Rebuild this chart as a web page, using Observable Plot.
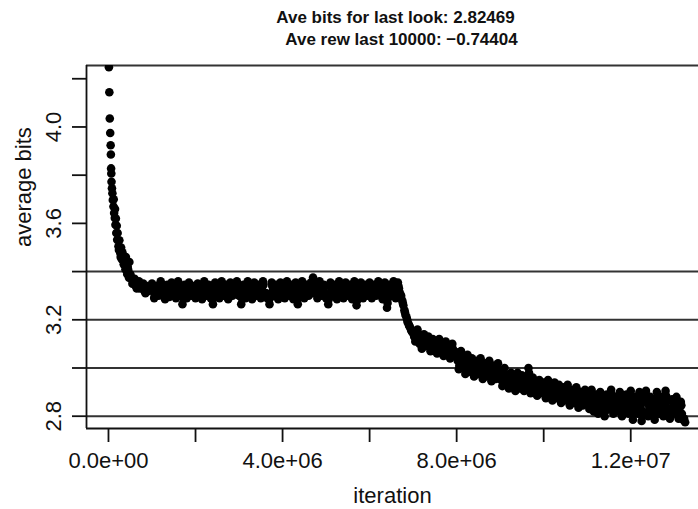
<!DOCTYPE html>
<html>
<head>
<meta charset="utf-8">
<script src="https://cdn.jsdelivr.net/npm/d3@7"></script>
<script src="https://cdn.jsdelivr.net/npm/@observablehq/plot@0.6"></script>
<style>
  html, body { margin: 0; padding: 0; background: #fff; }
  #chart { width: 698px; height: 509px; }
</style>
</head>
<body>
<div id="chart"></div>
<script>
// ---- data ----
const title1 = "Ave bits for last look: 2.82469";
const title2 = "Ave rew last 10000: \u22120.74404";
const xLabel = "iteration";
const yLabel = "average bits";

const xTicks = [0, 2e6, 4e6, 6e6, 8e6, 10e6, 12e6];
const xLabelTicks = [0, 4e6, 8e6, 12e6];
const xTickLabels = ["0.0e+00", "4.0e+06", "8.0e+06", "1.2e+07"];
const yTicks = [2.8, 3.0, 3.2, 3.4, 3.6, 3.8, 4.0, 4.2];
const yLabelTicks = [2.8, 3.2, 3.6, 4.0];
const yTickLabels = ["2.8", "3.2", "3.6", "4.0"];
const hLines = [3.4, 3.2, 3.0, 2.8];

// early iterations (dense, steep fall)
const earlyIter = [10000, 20000, 30000, 40000, 50000, 55000, 60000, 65000, 70000, 80000,
  90000, 100000, 115000, 130000, 145000, 160000, 180000, 200000, 230000, 270000,
  310000, 350000, 390000, 430000, 470000,
  240000, 280000, 320000, 360000, 400000, 440000, 480000,
  120000, 150000, 170000, 190000, 210000, 250000, 290000, 330000, 370000, 410000, 450000];
const earlyBits = [4.248, 4.144, 4.035, 3.975, 3.924, 3.886, 3.828, 3.807, 3.773, 3.746,
  3.725, 3.697, 3.670, 3.643, 3.622, 3.594, 3.560, 3.532, 3.505, 3.477,
  3.450, 3.430, 3.410, 3.390, 3.375,
  3.49, 3.46, 3.48, 3.44, 3.46, 3.42, 3.44,
  3.70, 3.66, 3.62, 3.59, 3.56, 3.53, 3.50, 3.46, 3.45, 3.43, 3.41];

// record A: every 50,000 iterations from 500,000
const aStart = 500000;
const aStep = 50000;
const aBits = [
  3.39, 3.35, 3.37, 3.33, 3.36, 3.34, 3.35, 3.31, 3.34, 3.33,
  3.35, 3.29, 3.34, 3.30, 3.36, 3.32, 3.285, 3.345, 3.295, 3.355,
  3.32, 3.29, 3.36, 3.30, 3.265, 3.345, 3.29, 3.355, 3.30, 3.34,
  3.29, 3.35, 3.31, 3.285, 3.36, 3.30, 3.345, 3.29, 3.265, 3.355,
  3.31, 3.29, 3.36, 3.30, 3.345, 3.285, 3.355, 3.30, 3.33, 3.36,
  3.30, 3.265, 3.345, 3.29, 3.36, 3.31, 3.285, 3.355, 3.30, 3.345,
  3.29, 3.36, 3.31, 3.29, 3.265, 3.355, 3.30, 3.345, 3.285, 3.355,
  3.31, 3.29, 3.36, 3.30, 3.345, 3.285, 3.355, 3.265, 3.31, 3.36,
  3.29, 3.345, 3.30, 3.355, 3.375, 3.31, 3.29, 3.36, 3.30, 3.345,
  3.29, 3.265, 3.355, 3.30, 3.345, 3.285, 3.36, 3.31, 3.29, 3.355,
  3.30, 3.345, 3.285, 3.36, 3.26, 3.31, 3.355, 3.29, 3.345, 3.30,
  3.355, 3.29, 3.345, 3.30, 3.36, 3.31, 3.285, 3.355, 3.25, 3.345,
  3.30, 3.36, 3.29, 3.355, 3.31, 3.28, 3.24, 3.21, 3.18, 3.16,
  3.15, 3.11, 3.16, 3.10, 3.08, 3.14, 3.09, 3.13, 3.07, 3.12,
  3.08, 3.06, 3.12, 3.07, 3.05, 3.11, 3.06, 3.04, 3.10, 3.05,
  3.065, 2.995, 3.07, 3.00, 2.975, 3.055, 2.985, 3.04, 2.965, 3.03,
  2.975, 3.04, 2.955, 3.02, 2.965, 3.03, 2.945, 3.01, 2.955, 3.02,
  2.99, 2.925, 3.00, 2.935, 2.915, 2.98, 2.925, 2.905, 2.98, 2.915,
  2.97, 2.905, 2.96, 3.00, 2.895, 2.96, 2.905, 2.885, 2.95, 2.895,
  2.94, 2.875, 2.95, 2.885, 2.865, 2.94, 2.875, 2.93, 2.855, 2.92,
  2.865, 2.93, 2.845, 2.91, 2.855, 2.92, 2.835, 2.90, 2.845, 2.91,
  2.90, 2.83, 2.91, 2.82, 2.89, 2.81, 2.90, 2.86, 2.80, 2.89,
  2.83, 2.91, 2.81, 2.88, 2.82, 2.90, 2.80, 2.85, 2.89, 2.81,
  2.905, 2.785, 2.88, 2.81, 2.90, 2.78, 2.87, 2.905, 2.80, 2.88,
  2.83, 2.785, 2.90, 2.81, 2.88, 2.80, 2.905, 2.82, 2.79, 2.87,
  2.81, 2.88, 2.79, 2.86, 2.785, 2.775
];

// record B: every 50,000 iterations from 525,000
const bStart = 525000;
const bStep = 50000;
const bBits = [
  3.37, 3.36, 3.34, 3.35, 3.33, 3.34, 3.32, 3.33, 3.32, 3.33,
  3.32, 3.31, 3.32, 3.33, 3.31, 3.30, 3.32, 3.31, 3.33, 3.31,
  3.31, 3.33, 3.32, 3.30, 3.31, 3.32, 3.33, 3.31, 3.32, 3.31,
  3.32, 3.31, 3.30, 3.33, 3.32, 3.31, 3.31, 3.32, 3.30, 3.33,
  3.31, 3.32, 3.33, 3.31, 3.30, 3.32, 3.32, 3.33, 3.31, 3.32,
  3.30, 3.31, 3.32, 3.33, 3.31, 3.30, 3.32, 3.32, 3.31, 3.32,
  3.33, 3.31, 3.31, 3.29, 3.30, 3.32, 3.31, 3.31, 3.32, 3.33,
  3.31, 3.32, 3.33, 3.31, 3.30, 3.32, 3.30, 3.31, 3.33, 3.32,
  3.31, 3.32, 3.33, 3.35, 3.34, 3.31, 3.32, 3.33, 3.32, 3.31,
  3.29, 3.30, 3.32, 3.32, 3.31, 3.32, 3.33, 3.31, 3.32, 3.32,
  3.32, 3.31, 3.32, 3.30, 3.29, 3.33, 3.32, 3.31, 3.32, 3.32,
  3.32, 3.31, 3.32, 3.33, 3.33, 3.30, 3.31, 3.30, 3.29, 3.32,
  3.33, 3.33, 3.32, 3.33, 3.30, 3.26, 3.22, 3.19, 3.17, 3.15,
  3.13, 3.13, 3.13, 3.10, 3.11, 3.11, 3.11, 3.10, 3.09, 3.10,
  3.08, 3.09, 3.09, 3.07, 3.08, 3.08, 3.06, 3.07, 3.07, 3.05,
  3.03, 3.03, 3.03, 3.00, 3.01, 3.02, 3.01, 3.00, 2.99, 3.00,
  3.00, 2.99, 2.98, 2.99, 2.99, 2.98, 2.97, 2.98, 2.98, 2.97,
  2.95, 2.96, 2.96, 2.94, 2.94, 2.95, 2.93, 2.94, 2.94, 2.94,
  2.93, 2.93, 2.96, 2.95, 2.92, 2.93, 2.91, 2.91, 2.92, 2.91,
  2.90, 2.91, 2.91, 2.89, 2.90, 2.90, 2.90, 2.89, 2.88, 2.89,
  2.89, 2.88, 2.87, 2.88, 2.88, 2.87, 2.86, 2.87, 2.87, 2.87,
  2.86, 2.87, 2.86, 2.85, 2.85, 2.86, 2.87, 2.84, 2.85, 2.86,
  2.87, 2.86, 2.84, 2.85, 2.86, 2.85, 2.83, 2.86, 2.85, 2.84,
  2.86, 2.83, 2.84, 2.85, 2.84, 2.82, 2.87, 2.86, 2.84, 2.85,
  2.82, 2.84, 2.86, 2.84, 2.84, 2.86, 2.86, 2.83, 2.83, 2.84,
  2.85, 2.84, 2.82, 2.81, 2.79
];

// record C: every 50,000 iterations from 512,500
const cStart = 512500;
const cStep = 50000;
const cBits = [
  3.38, 3.36, 3.355, 3.34, 3.345, 3.335, 3.34, 3.32, 3.335, 3.325,
  3.34, 3.30, 3.335, 3.305, 3.34, 3.31, 3.30, 3.335, 3.305, 3.34,
  3.315, 3.30, 3.345, 3.305, 3.29, 3.335, 3.30, 3.34, 3.31, 3.335,
  3.30, 3.34, 3.315, 3.295, 3.345, 3.305, 3.335, 3.30, 3.29, 3.34,
  3.31, 3.30, 3.345, 3.305, 3.335, 3.295, 3.34, 3.305, 3.325, 3.345,
  3.305, 3.29, 3.335, 3.30, 3.345, 3.31, 3.295, 3.34, 3.305, 3.335,
  3.30, 3.345, 3.31, 3.30, 3.29, 3.34, 3.305, 3.335, 3.295, 3.34,
  3.31, 3.30, 3.345, 3.305, 3.335, 3.295, 3.34, 3.29, 3.31, 3.345,
  3.30, 3.335, 3.305, 3.345, 3.36, 3.31, 3.30, 3.345, 3.305, 3.335,
  3.30, 3.285, 3.34, 3.305, 3.335, 3.295, 3.345, 3.31, 3.30, 3.34,
  3.305, 3.335, 3.295, 3.345, 3.28, 3.31, 3.34, 3.30, 3.335, 3.305,
  3.34, 3.30, 3.335, 3.305, 3.345, 3.31, 3.295, 3.34, 3.27, 3.335,
  3.305, 3.345, 3.30, 3.34, 3.30, 3.27, 3.23, 3.20, 3.175, 3.155,
  3.14, 3.12, 3.145, 3.105, 3.095, 3.125, 3.10, 3.115, 3.08, 3.11,
  3.085, 3.075, 3.10, 3.075, 3.065, 3.09, 3.065, 3.05, 3.08, 3.055,
  3.045, 3.01, 3.05, 3.01, 2.99, 3.035, 2.995, 3.02, 2.975, 3.015,
  2.985, 3.015, 2.965, 3.005, 2.975, 3.005, 2.955, 2.99, 2.965, 2.995,
  2.97, 2.94, 2.975, 2.94, 2.925, 2.96, 2.93, 2.92, 2.96, 2.925,
  2.95, 2.915, 2.95, 2.98, 2.905, 2.945, 2.91, 2.895, 2.935, 2.90,
  2.92, 2.885, 2.93, 2.89, 2.875, 2.92, 2.885, 2.91, 2.865, 2.905,
  2.875, 2.91, 2.855, 2.895, 2.865, 2.90, 2.85, 2.885, 2.855, 2.89,
  2.88, 2.845, 2.89, 2.835, 2.875, 2.83, 2.885, 2.855, 2.82, 2.875,
  2.84, 2.89, 2.825, 2.87, 2.83, 2.88, 2.82, 2.85, 2.875, 2.825,
  2.88, 2.81, 2.865, 2.825, 2.88, 2.80, 2.86, 2.885, 2.815, 2.865,
  2.835, 2.805, 2.88, 2.825, 2.865, 2.815, 2.885, 2.83, 2.805, 2.86,
  2.825, 2.865, 2.80, 2.845, 2.785
];

// ---- build table ----
const points = [];
earlyIter.forEach((it, i) => points.push({iteration: it, bits: earlyBits[i]}));
aBits.forEach((b, i) => points.push({iteration: aStart + i * aStep, bits: b}));
bBits.forEach((b, i) => points.push({iteration: bStart + i * bStep, bits: b}));
cBits.forEach((b, i) => points.push({iteration: cStart + i * cStep, bits: b}));

const xDomain = [-505000, 13557000];
const yDomain = [2.749, 4.255];
const ink = "#111";
const font = "'Liberation Sans', Arial, Helvetica, sans-serif";

const chart = Plot.plot({
  width: 698,
  height: 509,
  marginLeft: 86,
  marginRight: 0,
  marginTop: 65,
  marginBottom: 81,
  style: {fontFamily: font, fontSize: "22px", background: "#fff", color: ink, overflow: "visible"},
  x: {domain: xDomain, axis: null},
  y: {domain: yDomain, axis: null},
  marks: [
    Plot.ruleY(hLines, {stroke: "#333", strokeWidth: 2}),
    Plot.ruleY([yDomain[1]], {stroke: "#333", strokeWidth: 2}),
    Plot.ruleY([yDomain[0]], {stroke: ink, strokeWidth: 1.8}),
    Plot.ruleX([xDomain[0]], {stroke: ink, strokeWidth: 1.8}),
    Plot.axisX({ticks: xTicks, tickSize: 14, tickFormat: () => "", stroke: ink, strokeWidth: 1.8, label: null}),
    Plot.axisX({ticks: xLabelTicks, tickSize: 0, tickPadding: 24, fontSize: 22,
      tickFormat: d => xTickLabels[xLabelTicks.indexOf(d)], label: null, fill: ink}),
    Plot.axisY({ticks: yTicks, tickSize: 14, tickFormat: () => "", stroke: ink, strokeWidth: 1.8, label: null}),
    Plot.axisY({ticks: yLabelTicks, tickSize: 0, tickPadding: 26, tickRotate: -90, fontSize: 22,
      tickFormat: d => yTickLabels[yLabelTicks.indexOf(d)], label: null, fill: ink}),
    Plot.dot(points, {x: "iteration", y: "bits", r: 4.3, fill: "#000", stroke: null, clip: true}),
    Plot.text([xLabel], {frameAnchor: "bottom", dy: 74, lineAnchor: "bottom", fontSize: 22, fill: ink}),
    Plot.text([yLabel], {frameAnchor: "left", dx: -56, rotate: -90, lineAnchor: "bottom", fontSize: 22, fill: ink}),
    Plot.text([title1], {frameAnchor: "top", dx: 3, dy: -43, lineAnchor: "bottom", fontSize: 17, fontWeight: "bold", fill: ink}),
    Plot.text([title2], {frameAnchor: "top", dx: 9, dy: -21, lineAnchor: "bottom", fontSize: 17, fontWeight: "bold", fill: ink})
  ]
});
document.getElementById("chart").appendChild(chart);
</script>
</body>
</html>
